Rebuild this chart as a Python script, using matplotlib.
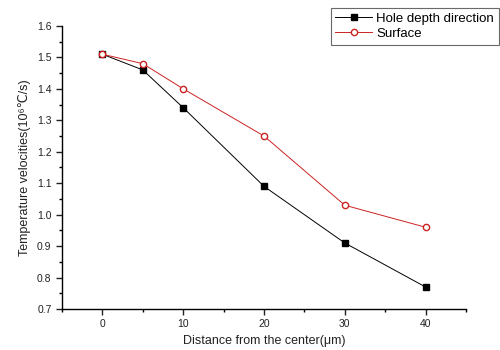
import numpy as np
import matplotlib
matplotlib.use("Agg")
import matplotlib.pyplot as plt
from matplotlib.ticker import MultipleLocator

plt.rcParams['font.family'] = ['Liberation Sans', 'DejaVu Sans']

# data
distance = [0, 5, 10, 20, 30, 40]
hole_depth = [1.51, 1.46, 1.34, 1.09, 0.91, 0.77]
surface = [1.51, 1.48, 1.40, 1.25, 1.03, 0.96]

fig = plt.figure(figsize=(5, 3.5), dpi=100)
ax = fig.add_axes([0.124, 0.117, 0.808, 0.809])

l1, = ax.plot(distance, hole_depth, color='black', lw=0.7, marker='s', ms=4,
              mfc='black', mec='black', label='Hole depth direction')
l2, = ax.plot(distance, surface, color='#cc2222', lw=0.7, marker='o', ms=4.5,
              mfc='white', mec='#cc2222', label='Surface')

ax.set_xlim(-5, 45)
ax.set_ylim(0.7, 1.6)
ax.xaxis.set_major_locator(MultipleLocator(10))
ax.xaxis.set_minor_locator(MultipleLocator(5))
ax.yaxis.set_major_locator(MultipleLocator(0.1))
ax.yaxis.set_minor_locator(MultipleLocator(0.05))
ax.xaxis.set_major_formatter(plt.FuncFormatter(lambda v, p: f"{v:.0f}"))
ax.yaxis.set_major_formatter(plt.FuncFormatter(lambda v, p: f"{v:.1f}"))

for s in ['top', 'right']:
    ax.spines[s].set_visible(False)
for s in ['left', 'bottom']:
    ax.spines[s].set_linewidth(1.0)
ax.tick_params(which='major', direction='out', length=4, width=1, labelsize=7.5, colors='#222222')
ax.tick_params(which='minor', direction='out', length=2.5, width=1)

ax.set_xlabel('Distance from the center(\u03bcm)', fontsize=9, color='#222222')
ax.set_ylabel('Temperature velocities(10\u2076\u2103/s)', fontsize=9, color='#222222')

leg = fig.legend(handles=[l1, l2], loc='upper right', bbox_to_anchor=(0.997, 0.978),
                 fontsize=9.5, frameon=True, fancybox=False, edgecolor='#444444',
                 handlelength=2.8, borderpad=0.35, labelspacing=0.25, handletextpad=0.3,
                 borderaxespad=0)
leg.get_frame().set_linewidth(0.8)

fig.savefig('out.png', dpi=100)
